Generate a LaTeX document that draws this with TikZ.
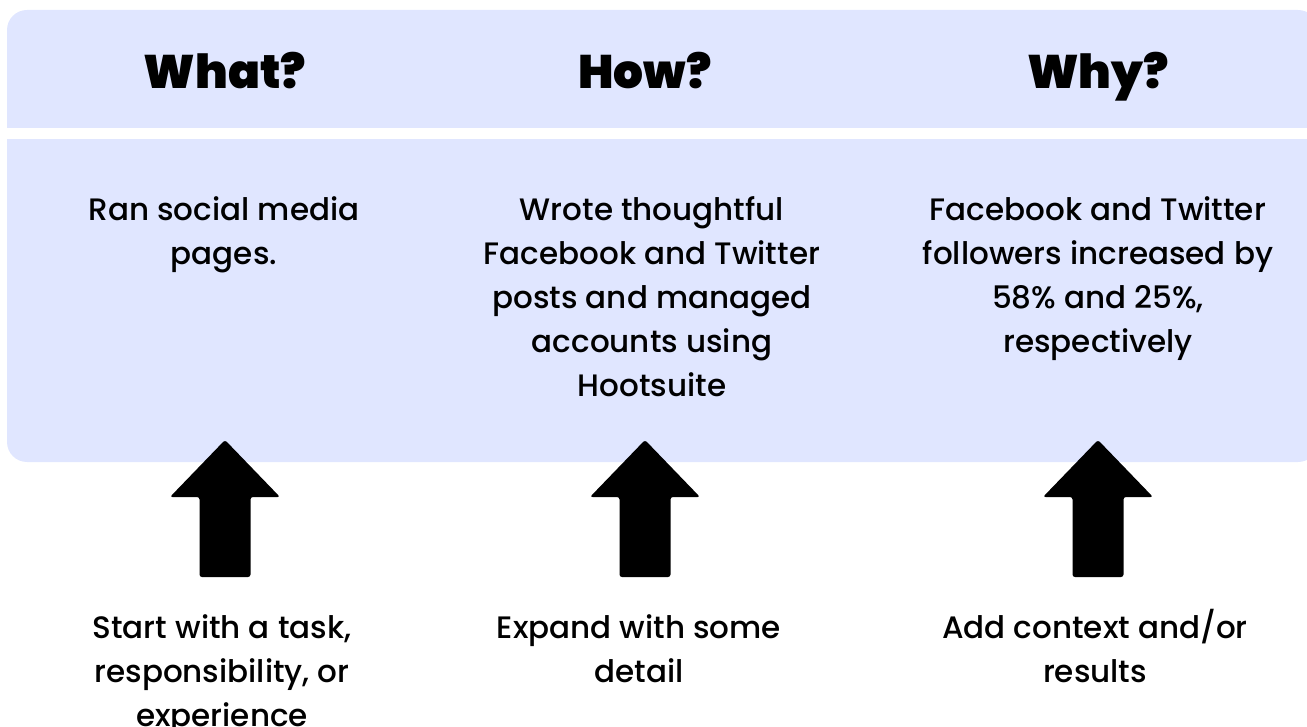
\documentclass[tikz,border=0pt]{standalone}
\usepackage{fontspec}
\setmainfont{Poppins Medium}
\newfontfamily\headfont{Poppins Black}
\definecolor{panelblue}{RGB}{224,230,255}

\begin{document}
\begin{tikzpicture}[
		x=1pt, y=-1pt,
		head/.style = {font=\headfont\fontsize{47}{50}\selectfont, anchor=base, inner sep=0pt},
		body/.style = {font=\fontsize{31}{44}\selectfont, align=center, anchor=north, inner sep=0pt},
		uparrow/.pic = {
			\fill[black, rounded corners=2.5pt] (0,0) -- (55,57) -- (25.5,57) -- (25.5,137)
				-- (-25.5,137) -- (-25.5,57) -- (-55,57) -- cycle;
		}
	]
	\useasboundingbox (0,0) rectangle (1307,727);
	% panel with the white stripe under the headers
	\fill[panelblue, rounded corners=20pt] (7,10) rectangle (1318,462);
	\fill[white] (0,128) rectangle (1330,139);
	% headers
	\node[head] (what) at (225,89) {What?};
	\node[head] (how) at (645,89) {How?};
	\node[head] (why) at (1098,89) {Why?};
	% examples inside the panel
	\node[body] (ran) at (224,196) {Ran social media\\pages.};
	\node[body] (wrote) at (652,196) {Wrote thoughtful\\Facebook and Twitter\\posts and managed\\accounts using\\Hootsuite};
	\node[body] (followers) at (1098,196) {Facebook and Twitter\\followers increased by\\58\% and 25\%,\\respectively};
	% arrows
	\pic (arr1) at (225,440) {uparrow};
	\pic (arr2) at (645,440) {uparrow};
	\pic (arr3) at (1098,440) {uparrow};
	% hints below
	\node[body] (start) at (222,614) {Start with a task,\\responsibility, or\\experience};
	\node[body] (expand) at (639,614) {Expand with some\\detail};
	\node[body] (add) at (1095,609) {Add context and/or\\results};
\end{tikzpicture}
\end{document}
